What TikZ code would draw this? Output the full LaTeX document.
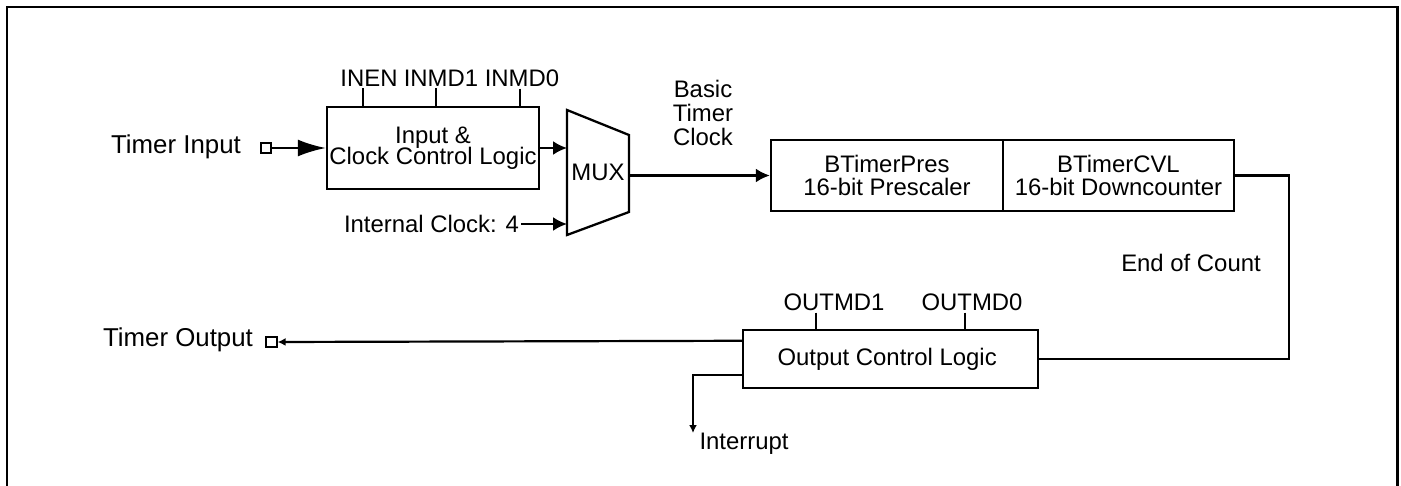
\documentclass[tikz,border=0pt]{standalone}
\usepackage{fontspec}
\setmainfont{Liberation Sans}
\usetikzlibrary{positioning,arrows.meta}

\begin{document}
\begin{tikzpicture}[
  x=0.02cm,
  y=-0.02cm,
  box/.style={
      rectangle,
      draw,
      line width=1.4pt,
      text centered,
      align=center,
      inner sep=0pt,
      font=\fontsize{13.6}{13.6}\selectfont
  },
  lbl/.style={
      inner sep=1pt,
      font=\fontsize{13.6}{13.9}\selectfont
  },
  biglbl/.style={
      inner sep=1pt,
      font=\fontsize{14.7}{16}\selectfont
  },
  pin/.style={
      rectangle,
      draw,
      line width=1pt,
      minimum size=0.21cm,
      inner sep=0pt
  },
  conn/.style={
      line width=1.25pt
  },
  tick/.style={
      line width=1.1pt
  },
  arrow/.style={
      conn,
      -{Latex[length=0.28cm,width=0.28cm]}
  },
  bigarrow/.style={
      conn,
      -{Latex[length=0.56cm,width=0.34cm]}
  },
  smallarrow/.style={
      conn,
      -{Latex[length=0.16cm,width=0.16cm]}
  }
]

\useasboundingbox (0,0) rectangle (1401,486);

% ==================================================
% Frame
% ==================================================

\draw[line width=1.7pt]
(7,500) -- (7,7) -- (1397,7) -- (1397,500);

% ==================================================
% Input Side
% ==================================================

\node[biglbl] (tin) at (176,147) {Timer Input};

\node[pin] (tinpin) at (266,148) {};

\node[
    box,
    minimum width=4.24cm,
    minimum height=1.64cm
] (inbox) at (433,148)
{
Input \&\\[-1.5pt]
Clock Control Logic
};

\node[lbl] (inen) at (369,78) {INEN};
\node[lbl] (inmda) at (441,78) {INMD1};
\node[lbl] (inmdb) at (522,78) {INMD0};

\node[lbl, anchor=east] (intclk) at (521,224) {Internal Clock: 4};

% ==================================================
% MUX
% ==================================================

\coordinate (muxin1) at (567,148);
\coordinate (muxin2) at (567,224);
\coordinate (muxout) at (629,175.5);

\draw[line width=1.3pt, line join=miter]
(567,110) -- (629,135) -- (629,212) -- (567,235) -- cycle;

\node[lbl] (mux) at (598,172) {MUX};

\node[lbl, align=center] (btclk) at (703,113)
{
Basic\\
Timer\\
Clock
};

% ==================================================
% Prescaler and Downcounter
% ==================================================

\node[
    box,
    minimum width=4.64cm,
    minimum height=1.42cm
] (pres) at (887,175.5)
{
BTimerPres\\
16-bit Prescaler
};

\node[
    box,
    minimum width=4.62cm,
    minimum height=1.42cm,
    right=-1.4pt of pres
] (cvl)
{
BTimerCVL\\
16-bit Downcounter
};

\node[lbl] (eoc) at (1191,263) {End of Count};

% ==================================================
% Output Side
% ==================================================

\node[
    box,
    minimum width=5.9cm,
    minimum height=1.16cm
] (outbox) at (890.5,359)
{
Output Control Logic
};

\node[lbl] (outmda) at (834,302) {OUTMD1};
\node[lbl] (outmdb) at (972,302) {OUTMD0};

\node[biglbl] (tout) at (178,340) {Timer Output};

\node[pin] (toutpin) at (271.5,342) {};

\coordinate (irqtip) at (693,433);

\node[lbl] (irq) at (744,444) {Interrupt};

% ==================================================
% Connections
% ==================================================

\draw[bigarrow]
(tinpin.east)
-- (inbox.west);

\draw[arrow]
(inbox.east)
-- (muxin1);

\draw[arrow]
(intclk.east)
-- (muxin2);

\draw[arrow]
(muxout)
-- (pres.west);

\draw[conn]
(cvl.east)
-| ([xshift=1.08cm]cvl.east |- outbox.east)
-- (outbox.east);

\draw[smallarrow]
(outbox.north west)
++(0,12)
-- (toutpin.east);

\draw[smallarrow]
(outbox.south west)
++(0,-14)
-| (irqtip);

\draw[tick] ([xshift=-0.12cm]inen.south) -- ([xshift=-0.12cm]inen.south |- inbox.north);
\draw[tick] ([xshift=-0.10cm]inmda.south) -- ([xshift=-0.10cm]inmda.south |- inbox.north);
\draw[tick] ([xshift=-0.04cm]inmdb.south) -- ([xshift=-0.04cm]inmdb.south |- inbox.north);
\draw[tick] ([xshift=-0.36cm]outmda.south) -- ([xshift=-0.36cm]outmda.south |- outbox.north);
\draw[tick] ([xshift=-0.14cm]outmdb.south) -- ([xshift=-0.14cm]outmdb.south |- outbox.north);

\end{tikzpicture}
\end{document}
